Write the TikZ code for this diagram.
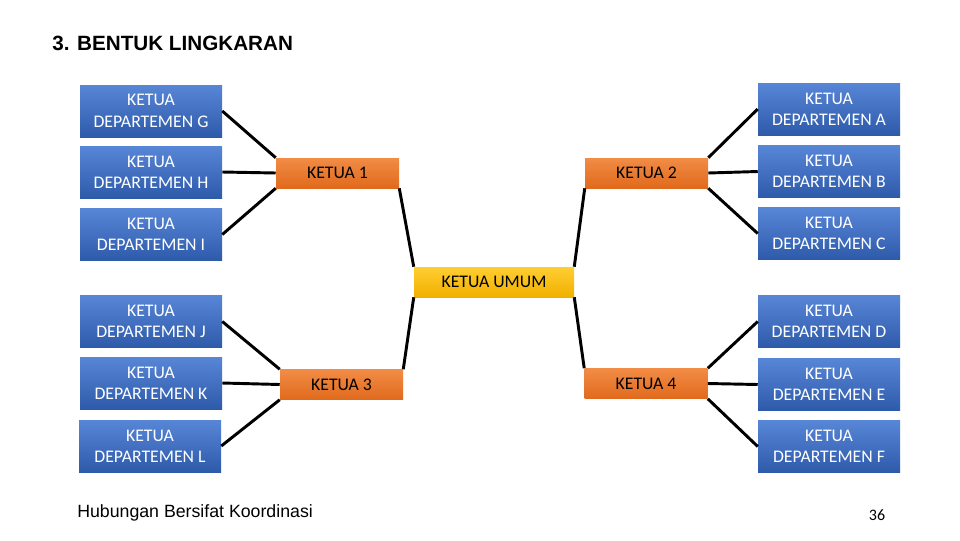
\documentclass[tikz,border=0pt]{standalone}
\usepackage{fontspec}
\setmainfont{Carlito}
\newfontfamily\arialfont{Liberation Sans}
\usepackage{tikz}
\usetikzlibrary{positioning}

\definecolor{depttop}{RGB}{88,134,214}
\definecolor{deptbot}{RGB}{46,90,170}
\definecolor{oratop}{RGB}{242,140,70}
\definecolor{orabot}{RGB}{224,106,28}
\definecolor{umtop}{RGB}{255,206,50}
\definecolor{umbot}{RGB}{240,176,0}

\begin{document}
\begin{tikzpicture}[x=0.75pt, y=-0.75pt, every node/.style={font=\fontsize{13.3}{16}\selectfont},
  dept/.style={top color=depttop, bottom color=deptbot, text=white, minimum width=106.5pt, minimum height=39pt, align=center, inner sep=0pt},
  ketua/.style={top color=oratop, bottom color=orabot, text=black, minimum width=92.25pt, minimum height=22.5pt, inner sep=0pt},
  umumbox/.style={top color=umtop, bottom color=umbot, text=black, minimum width=120pt, minimum height=22.5pt, inner sep=0pt},
  link/.style={line width=2.2pt, black}]

  \useasboundingbox (0,0) rectangle (960,540);

  % Title and footer
  \node[anchor=west, inner sep=0pt, font=\arialfont\bfseries\fontsize{15.5}{18}\selectfont] (title) at (52,43) {3. BENTUK LINGKARAN};
  \node[anchor=west, inner sep=0pt, font=\arialfont\fontsize{13.3}{16}\selectfont] (foot) at (77,513) {Hubungan Bersifat Koordinasi};
  \node[font=\fontsize{12}{14}\selectfont] (page) at (877,515) {36};

  % Left side departments
  \node[dept] (dg) at (151,111) {KETUA\\DEPARTEMEN G};
  \node[dept] (dh) at (151,172) {KETUA\\DEPARTEMEN H};
  \node[dept] (di) at (151,234.5) {KETUA\\DEPARTEMEN I};
  \node[dept] (dj) at (151,321.5) {KETUA\\DEPARTEMEN J};
  \node[dept] (dk) at (151,383) {KETUA\\DEPARTEMEN K};
  \node[dept] (dl) at (150,446) {KETUA\\DEPARTEMEN L};

  % Right side departments
  \node[dept] (da) at (829,109) {KETUA\\DEPARTEMEN A};
  \node[dept] (db) at (829,171.5) {KETUA\\DEPARTEMEN B};
  \node[dept] (dc) at (829,233.5) {KETUA\\DEPARTEMEN C};
  \node[dept] (dd) at (829,321.5) {KETUA\\DEPARTEMEN D};
  \node[dept] (de) at (829,384.5) {KETUA\\DEPARTEMEN E};
  \node[dept] (df) at (829,446.5) {KETUA\\DEPARTEMEN F};

  % Ketua boxes and centre
  \node[ketua] (k1) at (337.5,173) {KETUA 1};
  \node[ketua] (k2) at (646.5,173) {KETUA 2};
  \node[ketua] (k3) at (341.5,384.5) {KETUA 3};
  \node[ketua] (k4) at (646,383.5) {KETUA 4};
  \node[umumbox] (umum) at (494,282) {KETUA UMUM};

  % Links to departments
  \draw[link] (dg.east) -- (k1.north west);
  \draw[link] (dh.east) -- (k1.west);
  \draw[link] (di.east) -- (k1.south west);
  \draw[link] (da.west) -- (k2.north east);
  \draw[link] (db.west) -- (k2.east);
  \draw[link] (dc.west) -- (k2.south east);
  \draw[link] (dj.east) -- (k3.north west);
  \draw[link] (dk.east) -- (k3.west);
  \draw[link] (dl.east) -- (k3.south west);
  \draw[link] (dd.west) -- (k4.north east);
  \draw[link] (de.west) -- (k4.east);
  \draw[link] (df.west) -- (k4.south east);

  % Links to ketua umum
  \draw[link] (k1.south east) -- (umum.north west);
  \draw[link] (k2.south west) -- (umum.north east);
  \draw[link] (k3.north east) -- (umum.south west);
  \draw[link] (k4.north west) -- (umum.south east);
\end{tikzpicture}
\end{document}
